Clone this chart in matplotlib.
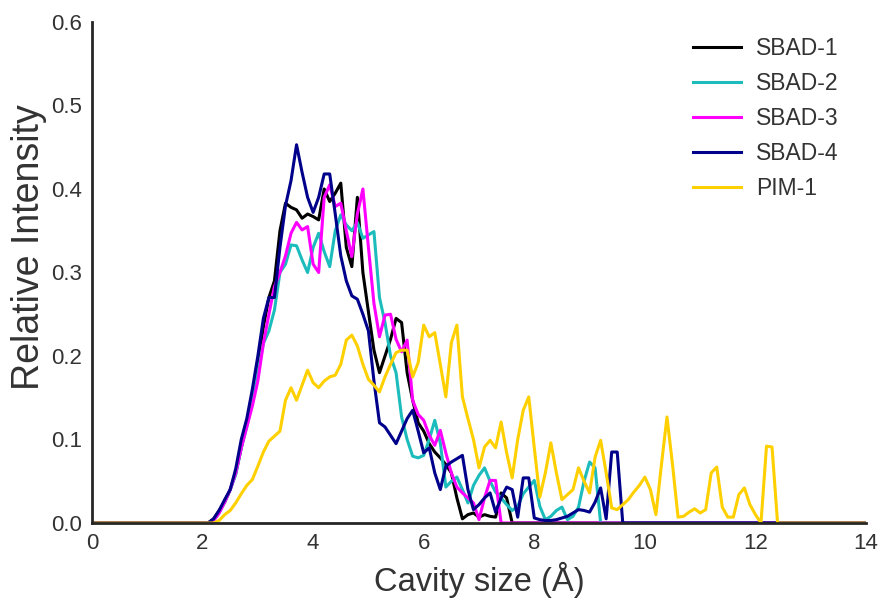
import numpy as np
import matplotlib
matplotlib.use("Agg")
import matplotlib.pyplot as plt

# cavity size grid (Angstrom), 0.1 A bins
cavity_size = np.round(np.arange(0, 14.001, 0.1), 1)

# relative intensity, starting at the given cavity size; zero elsewhere
sbad1_start = 2.1
sbad1 = [0.0, 0.005, 0.015, 0.025, 0.04, 0.06, 0.09, 0.12, 0.15, 0.19,
         0.235, 0.27, 0.29, 0.35, 0.383, 0.378, 0.375, 0.365, 0.37, 0.367,
         0.363, 0.40, 0.385, 0.395, 0.407, 0.33, 0.307, 0.39, 0.30, 0.253,
         0.207, 0.18, 0.20, 0.22, 0.245, 0.24, 0.18, 0.147, 0.12, 0.11,
         0.095, 0.085, 0.078, 0.07, 0.06, 0.03, 0.005, 0.01, 0.012, 0.007,
         0.01, 0.008, 0.007, 0.036, 0.03, 0.0]

sbad2_start = 2.1
sbad2 = [0.0, 0.003, 0.012, 0.025, 0.04, 0.058, 0.09, 0.115, 0.145, 0.18,
         0.215, 0.23, 0.255, 0.30, 0.31, 0.333, 0.332, 0.315, 0.30, 0.33,
         0.347, 0.325, 0.307, 0.35, 0.369, 0.357, 0.35, 0.36, 0.341, 0.345,
         0.349, 0.27, 0.24, 0.20, 0.18, 0.127, 0.10, 0.08, 0.078, 0.081,
         0.10, 0.123, 0.096, 0.043, 0.05, 0.055, 0.04, 0.024, 0.045, 0.057,
         0.066, 0.05, 0.037, 0.03, 0.022, 0.015, 0.02, 0.035, 0.043, 0.051,
         0.02, 0.004, 0.008, 0.015, 0.019, 0.004, 0.008, 0.019, 0.05, 0.073,
         0.066, 0.0]

sbad3_start = 2.1
sbad3 = [0.0, 0.003, 0.012, 0.025, 0.04, 0.06, 0.09, 0.115, 0.14, 0.17,
         0.215, 0.25, 0.283, 0.30, 0.32, 0.347, 0.36, 0.351, 0.355, 0.31,
         0.30, 0.39, 0.405, 0.379, 0.383, 0.35, 0.319, 0.37, 0.40, 0.33,
         0.263, 0.223, 0.249, 0.25, 0.22, 0.205, 0.219, 0.147, 0.13, 0.123,
         0.105, 0.093, 0.111, 0.084, 0.06, 0.043, 0.036, 0.03, 0.024, 0.004,
         0.03, 0.051, 0.051, 0.0]

sbad4_start = 2.1
sbad4 = [0.0, 0.005, 0.015, 0.028, 0.04, 0.065, 0.10, 0.125, 0.16, 0.20,
         0.245, 0.27, 0.27, 0.33, 0.38, 0.41, 0.453, 0.42, 0.39, 0.372,
         0.39, 0.418, 0.418, 0.37, 0.32, 0.29, 0.272, 0.268, 0.25, 0.23,
         0.17, 0.12, 0.115, 0.105, 0.095, 0.11, 0.125, 0.135, 0.11, 0.084,
         0.09, 0.06, 0.04, 0.068, 0.073, 0.077, 0.081, 0.04, 0.016, 0.022,
         0.03, 0.036, 0.013, 0.03, 0.043, 0.04, 0.007, 0.054, 0.054, 0.006,
         0.004, 0.003, 0.003, 0.004, 0.006, 0.008, 0.012, 0.016, 0.015, 0.013,
         0.025, 0.042, 0.005, 0.085, 0.085, 0.0]

pim1_start = 2.2
pim1 = [0.0, 0.003, 0.01, 0.015, 0.024, 0.035, 0.045, 0.052, 0.068, 0.085,
        0.098, 0.104, 0.11, 0.147, 0.162, 0.147, 0.165, 0.183, 0.168, 0.162,
        0.17, 0.175, 0.177, 0.19, 0.219, 0.225, 0.212, 0.19, 0.172, 0.165,
        0.157, 0.175, 0.19, 0.204, 0.207, 0.207, 0.175, 0.192, 0.237, 0.223,
        0.228, 0.19, 0.151, 0.216, 0.237, 0.151, 0.125, 0.10, 0.066, 0.091,
        0.099, 0.09, 0.121, 0.084, 0.054, 0.10, 0.135, 0.151, 0.09, 0.031,
        0.06, 0.096, 0.06, 0.028, 0.034, 0.04, 0.066, 0.05, 0.036, 0.079,
        0.099, 0.06, 0.018, 0.016, 0.022, 0.028, 0.037, 0.045, 0.055, 0.04,
        0.01, 0.07, 0.127, 0.07, 0.007, 0.008, 0.013, 0.017, 0.012, 0.016,
        0.06, 0.067, 0.019, 0.007, 0.007, 0.034, 0.042, 0.022, 0.01, 0.0,
        0.092, 0.091, 0.0]

series = [
    ("SBAD-1", sbad1_start, sbad1, "#000000"),
    ("SBAD-2", sbad2_start, sbad2, "#1CBCBC"),
    ("SBAD-3", sbad3_start, sbad3, "#FF00FF"),
    ("SBAD-4", sbad4_start, sbad4, "#00008B"),
    ("PIM-1", pim1_start, pim1, "#FFD000"),
]


def on_grid(start, values):
    y = np.zeros_like(cavity_size)
    i0 = int(round(start * 10))
    y[i0:i0 + len(values)] = values
    return y


plt.rcParams["font.family"] = ["Liberation Sans", "DejaVu Sans"]

fig = plt.figure(figsize=(8.81, 6.01), dpi=100)
ax = fig.add_axes([0.1044, 0.1298, 0.8786, 0.8336])

for name, start, vals, color in series:
    ax.plot(cavity_size, on_grid(start, vals), color=color, lw=2.2, label=name)

ax.set_xlim(0, 14)
ax.set_ylim(0, 0.6)
ax.set_xticks(range(0, 15, 2))
ax.set_yticks(np.arange(0, 0.61, 0.1))
ax.set_yticklabels([f"{v:.1f}" for v in np.arange(0, 0.61, 0.1)])

for side in ("top", "right"):
    ax.spines[side].set_visible(False)
for side in ("left", "bottom"):
    ax.spines[side].set_color("#262626")
    ax.spines[side].set_linewidth(2.0)

ax.tick_params(length=0, labelsize=16, colors="#333333", pad=7)
ax.set_xlabel("Cavity size (Å)", fontsize=23.5, color="#333333", labelpad=6)
ax.set_ylabel("Relative Intensity", fontsize=27, color="#333333",
              labelpad=3, y=0.55)

ax.legend(loc="upper left", bbox_to_anchor=(0.776, 0.97), frameon=False,
          borderpad=0, borderaxespad=0, handlelength=2.1, handletextpad=0.67,
          labelspacing=0.52, fontsize=16.5, labelcolor="#333333")

fig.savefig("out.png", dpi=100)
